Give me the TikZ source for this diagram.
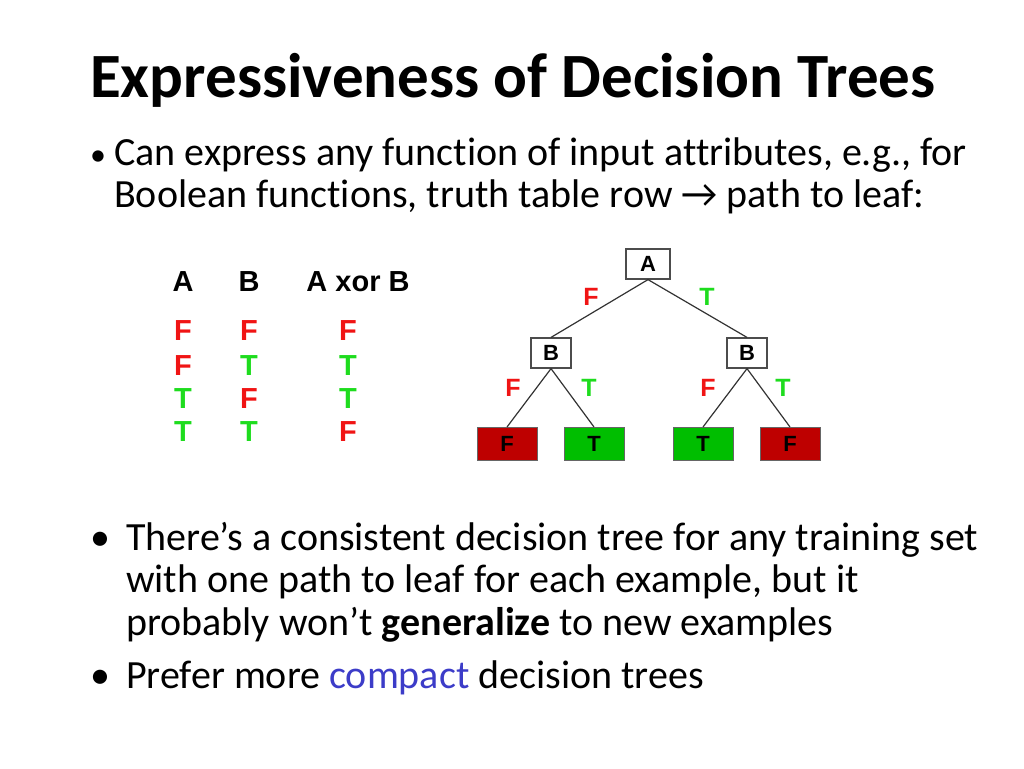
\documentclass[tikz,border=0pt]{standalone}
\usepackage{fontspec}
\setmainfont{Carlito}[Ligatures={NoCommon}]
\newfontfamily\arialb{Liberation Sans}
\definecolor{fred}{RGB}{240,20,20}
\definecolor{tgreen}{RGB}{30,220,30}
\definecolor{leafred}{RGB}{190,0,0}
\definecolor{leafgreen}{RGB}{0,190,0}
\definecolor{cblue}{RGB}{60,60,200}
\begin{document}
\begin{tikzpicture}[x=1pt,y=-1pt,
  txt/.style={anchor=base west,inner sep=0pt,font=\fontsize{40}{48}\selectfont},
  tb/.style={inner sep=0pt,font=\arialb\bfseries\fontsize{29}{34}\selectfont},
  inner/.style={draw=black!70,fill=white,line width=1.2pt,minimum width=40pt,minimum height=30pt,inner sep=0pt,font=\arialb\bfseries\fontsize{22}{26}\selectfont},
  leaf/.style={draw=black!60,line width=1pt,minimum width=60pt,minimum height=33pt,inner sep=0pt,font=\arialb\bfseries\fontsize{22}{26}\selectfont},
  lbl/.style={inner sep=0pt,font=\arialb\bfseries\fontsize{25}{30}\selectfont},
  edge/.style={draw=black!80,line width=1.2pt}]
\useasboundingbox (0,0) rectangle (1024,768);
\node[anchor=base west,inner sep=0pt,font=\bfseries\fontsize{63}{72}\selectfont] (title) at (90,97) {Expressiveness of Decision Trees};
\node[txt,font=\fontsize{32}{38}\selectfont] (b1) at (90,165) {•};
\node[txt] (l1) at (114,165) {Can express any function of input attributes, e.g., for};
\node[txt] (l2) at (114,207) {Boolean functions, truth table row → path to leaf:};
% table
\foreach \n/\x/\t in {hA/183/A, hB/249/B, hX/358/A xor B} \node[tb] (\n) at (\x,282) {\t};
\foreach \r/\y/\a/\b/\c in {1/331/F/F/F, 2/366/F/T/T, 3/399/T/F/T, 4/432/T/T/F}{
  \node[tb,text=\if\a Ffred\else tgreen\fi] (a\r) at (183,\y) {\a};
  \node[tb,text=\if\b Ffred\else tgreen\fi] (bb\r) at (249,\y) {\b};
  \node[tb,text=\if\c Ffred\else tgreen\fi] (c\r) at (348,\y) {\c};
}
% tree
\node[inner,minimum width=44pt] (A) at (648,264) {A};
\node[inner] (BL) at (551,353) {B};
\node[inner] (BR) at (747,353) {B};
\node[leaf,fill=leafred] (L1) at (507,444) {F};
\node[leaf,fill=leafgreen] (L2) at (594,444) {T};
\node[leaf,fill=leafgreen] (L3) at (703,444) {T};
\node[leaf,fill=leafred] (L4) at (790,444) {F};
\draw[edge] (A.south) -- (BL.north);
\draw[edge] (A.south) -- (BR.north);
\draw[edge] (BL.south) -- (L1.north);
\draw[edge] (BL.south) -- (L2.north);
\draw[edge] (BR.south) -- (L3.north);
\draw[edge] (BR.south) -- (L4.north);
\node[lbl,text=fred] (eF1) at (591,297) {F};
\node[lbl,text=tgreen] (eT1) at (707,297) {T};
\node[lbl,text=fred] (eF2) at (513,388) {F};
\node[lbl,text=tgreen] (eT2) at (589,388) {T};
\node[lbl,text=fred] (eF3) at (708,388) {F};
\node[lbl,text=tgreen] (eT3) at (783,388) {T};
% bullets
\node[txt] (b2) at (90,550) {•};
\node[txt] (m1) at (126,550) {There’s a consistent decision tree for any training set};
\node[txt] (m2) at (126,592) {with one path to leaf for each example, but it};
\node[txt] (m3) at (126,635) {probably won\symbol{39}t \textbf{generalize} to new examples};
\node[txt] (b3) at (90,688) {•};
\node[txt] (m4) at (126,688) {Prefer more \textcolor{cblue}{compact} decision trees};
\end{tikzpicture}
\end{document}
